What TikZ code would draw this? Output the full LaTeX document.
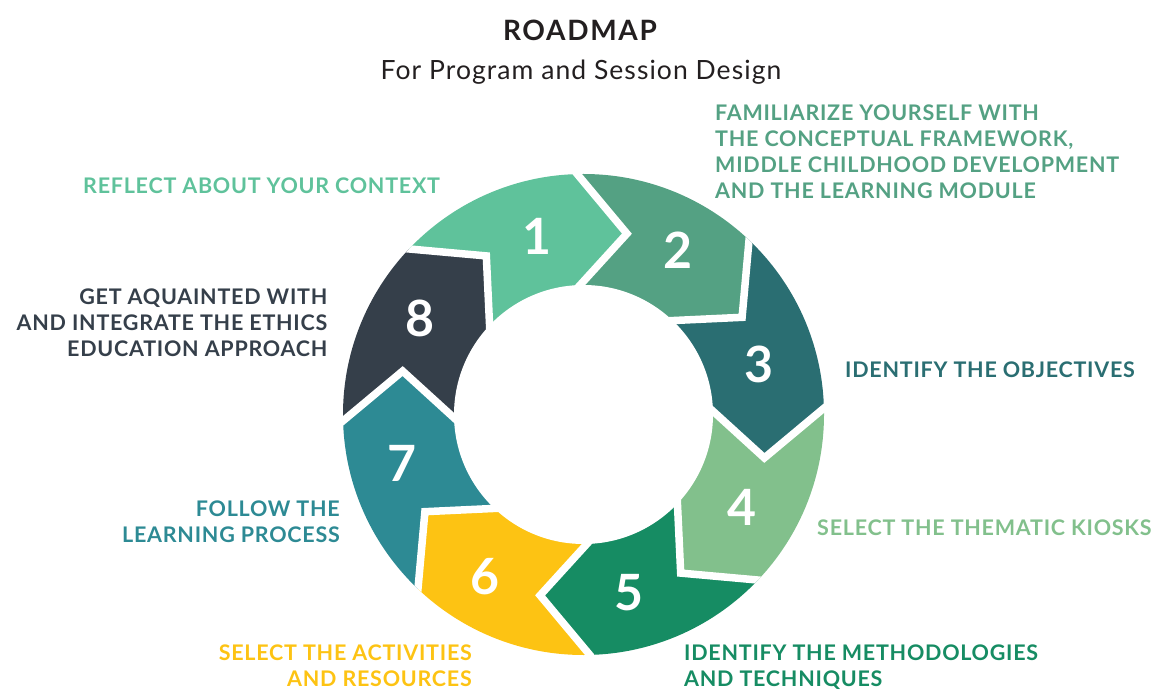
\documentclass[tikz,border=0pt]{standalone}
\usepackage{fontspec}
\setmainfont{Lato}
\usetikzlibrary{calc}

\definecolor{segA}{HTML}{5FC29B}
\definecolor{segB}{HTML}{54A183}
\definecolor{segC}{HTML}{2A6E72}
\definecolor{segD}{HTML}{82C08C}
\definecolor{segE}{HTML}{168C63}
\definecolor{segF}{HTML}{FDC313}
\definecolor{segG}{HTML}{2D8A94}
\definecolor{segH}{HTML}{353F4A}
\definecolor{titlegray}{HTML}{231F20}

\tikzset{
  steplabel/.style={inner sep=0pt,
    font=\fontsize{21.5}{25.7}\selectfont\bfseries\addfontfeatures{LetterSpace=3.5}},
  stepnum/.style={inner sep=0pt, text=white, font=\fontsize{50}{50}\selectfont\bfseries},
  gapline/.style={white, line width=7.5pt, line join=miter, miter limit=10}
}

\begin{document}
\begin{tikzpicture}[x=1pt,y=1pt]
\useasboundingbox (0,0) rectangle (1154,689);

% ring geometry
\def\Rout{240.5}
\def\Rin{129.5}
\def\Rtip{186}
\coordinate (C) at (583.5,274.5);

% chevron j separates step j+1 from step j+2 and points clockwise
\foreach \j in {0,...,7} {
  \pgfmathsetmacro\a{91.5-45*\j}
  \coordinate (T\j) at ($(C)+(\a-15:\Rtip)$);
  \coordinate (Bo\j) at ($(C)+(\a:\Rout)$);
  \coordinate (Bi\j) at ($(C)+(\a:\Rin)$);
  \coordinate (Po\j) at ($(T\j)!1.4!(Bo\j)$);
  \coordinate (Pi\j) at ($(T\j)!1.6!(Bi\j)$);
  \coordinate (F\j) at ($(C)+(\a-22.5-45:2*\Rout)$);
}

% coloured segments
\begin{scope}
  \clip (C) circle (\Rout);
  \foreach \k/\s/\e/\col in {1/7/0/segA, 2/0/1/segB, 3/1/2/segC, 4/2/3/segD,
                             5/3/4/segE, 6/4/5/segF, 7/5/6/segG, 8/6/7/segH} {
    \fill[\col] (C) -- (Pi\s) -- (T\s) -- (Po\s) -- (F\s) -- (Po\e) -- (T\e) -- (Pi\e) -- cycle;
  }
  \foreach \j in {0,...,7} {
    \draw[gapline] (Po\j) -- (T\j) -- (Pi\j);
  }
\end{scope}
\fill[white] (C) circle (\Rin);

% step numbers
\node[stepnum] (n1) at (536.7,453) {1};
\node[stepnum] (n2) at (678,439) {2};
\node[stepnum] (n3) at (759,325) {3};
\node[stepnum] (n4) at (742,182) {4};
\node[stepnum] (n5) at (628.7,96) {5};
\node[stepnum] (n6) at (485,112) {6};
\node[stepnum] (n7) at (401.7,226) {7};
\node[stepnum] (n8) at (420,371) {8};

% heading
\node[inner sep=0pt, anchor=north, text=titlegray,
      font=\fontsize{28}{32}\selectfont\bfseries\addfontfeatures{LetterSpace=6}]
  (title) at (580,668.8) {ROADMAP};
\node[inner sep=0pt, anchor=north, text=titlegray,
      font=\fontsize{26.5}{30}\selectfont\addfontfeatures{LetterSpace=4}]
  (subtitle) at (581,629.7) {For Program and Session Design};

% step labels
\node[steplabel, text=segA, anchor=north west] (l1) at (83,511.7)
  {REFLECT ABOUT YOUR CONTEXT};
\node[steplabel, text=segB, anchor=north west, align=left] (l2) at (715,584)
  {FAMILIARIZE YOURSELF WITH\\THE CONCEPTUAL FRAMEWORK,\\MIDDLE CHILDHOOD DEVELOPMENT\\AND THE LEARNING MODULE};
\node[steplabel, text=segC, anchor=north west] (l3) at (845,327.5)
  {IDENTIFY THE OBJECTIVES};
\node[steplabel, text=segD, anchor=north west] (l4) at (817,169.5)
  {SELECT THE THEMATIC KIOSKS};
\node[steplabel, text=segE, anchor=north west, align=left] (l5) at (684,44.5)
  {IDENTIFY THE METHODOLOGIES\\AND TECHNIQUES};
\node[steplabel, text=segF, anchor=north east, align=right] (l6) at (472,44.5)
  {SELECT THE ACTIVITIES\\AND RESOURCES};
\node[steplabel, text=segG, anchor=north east, align=right] (l7) at (340,188.5)
  {FOLLOW THE\\LEARNING PROCESS};
\node[steplabel, text=segH, anchor=north east, align=right] (l8) at (327.5,400)
  {GET AQUAINTED WITH\\AND INTEGRATE THE ETHICS\\EDUCATION APPROACH};
\end{tikzpicture}
\end{document}
